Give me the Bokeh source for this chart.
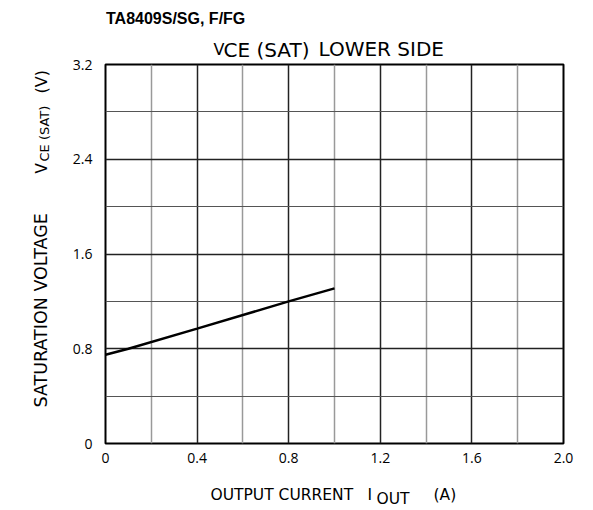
from bokeh.plotting import figure
from bokeh.models import Range1d, FixedTicker
from bokeh.layouts import column, row
from bokeh.core.properties import value
from bokeh.embed import file_html
from bokeh.resources import INLINE
import math

# ---- data ----
iout = [0.0, 0.1, 0.4, 0.8, 1.0]
vce_sat = [0.75, 0.80, 0.97, 1.20, 1.31]

x_ticks = [0, 0.4, 0.8, 1.2, 1.6, 2.0]
x_minor = [0.2, 0.6, 1.0, 1.4, 1.8]
y_ticks = [0, 0.8, 1.6, 2.4, 3.2]
y_minor = [0.4, 1.2, 2.0, 2.8]
x_labels = {0: "0", 0.4: "0.4", 0.8: "0.8", 1.2: "1.2", 1.6: "1.6", 2.0: "2.0"}
y_labels = {0: "0", 0.8: "0.8", 1.6: "1.6", 2.4: "2.4", 3.2: "3.2"}

title_text = "TA8409S/SG, F/FG"
subtitle_parts = ["V", "CE (SAT)", "LOWER SIDE"]
xlabel_parts = ["OUTPUT CURRENT", "I", "OUT", "(A)"]
ylabel_parts = ["SATURATION VOLTAGE", "V", "CE (SAT)", "(V)"]

TICK_FONT = "Open Sans"
LAB_FONT = "DejaVu Sans"

# ---- layout geometry (canvas pixels) ----
TOTAL_H = 508
YLAB_W = 60
TICK_W = 40
COL_X = YLAB_W + TICK_W          # 100
MAIN_W = 577 - COL_X             # 477
F_LEFT, F_RIGHT = 105, 563       # plot frame
F_TOP, F_BOT = 64, 443
HEAD_H = 62
MAIN_H = F_BOT + 33 - HEAD_H     # 414
XLAB_H = TOTAL_H - HEAD_H - MAIN_H
SHIFT = 0.37                     # empirical baseline correction (em)


def blank(f):
    f.outline_line_color = None
    f.background_fill_color = "white"
    f.border_fill_color = "white"
    return f


def put(f, x, y, text, size, font=LAB_FONT, bold=False, angle=0.0):
    f.text(x=[x], y=[y], text=[text], text_font=value(font),
           text_font_size=value("%gpx" % size), text_font_style="bold" if bold else "normal",
           angle=angle, text_align="left", text_baseline="alphabetic",
           text_color="black")


# ---- header (data x = canvas x, data y = HEAD_H - canvas y) ----
head = blank(figure(width=MAIN_W, height=HEAD_H, output_backend="svg", toolbar_location=None,
                    x_range=Range1d(F_LEFT, F_RIGHT), y_range=Range1d(0, HEAD_H),
                    x_axis_type=None, y_axis_type=None,
                    min_border_left=F_LEFT - COL_X, min_border_right=577 - F_RIGHT,
                    min_border_top=0, min_border_bottom=0))
def hput(x, base, text, size, **kw):
    put(head, x, HEAD_H - (base - SHIFT * size), text, size, **kw)

hput(105.5, 24, title_text, 16, font="Liberation Sans", bold=True)
hput(213, 55, subtitle_parts[0], 16)
hput(223, 57, subtitle_parts[1], 20)
hput(318, 56, subtitle_parts[2], 20)

# ---- y label panel (frame = plot frame rows) ----
ylab = blank(figure(width=YLAB_W, height=TOTAL_H, output_backend="svg", toolbar_location=None,
                    x_range=Range1d(0, YLAB_W), y_range=Range1d(0, F_BOT - F_TOP),
                    x_axis_type=None, y_axis_type=None,
                    min_border_left=0, min_border_right=0,
                    min_border_top=F_TOP, min_border_bottom=TOTAL_H - F_BOT))
ang = math.pi / 2
def yput(base_x, start_y, text, size):
    put(ylab, base_x - SHIFT * size, F_BOT - start_y, text, size, angle=ang)

yput(47, 407, ylabel_parts[0], 17.5)
yput(47, 173, ylabel_parts[1], 15)
yput(49, 161, ylabel_parts[2], 13)
yput(47, 93, ylabel_parts[3], 16)

# ---- y tick label panel ----
yt = blank(figure(width=TICK_W, height=TOTAL_H, output_backend="svg", toolbar_location=None,
                  x_range=Range1d(0, 1), y_range=Range1d(0, 3.2), x_axis_type=None,
                  min_border_left=TICK_W - 1, min_border_right=0,
                  min_border_top=F_TOP, min_border_bottom=TOTAL_H - F_BOT))
yt.ygrid.visible = False
yt.yaxis.ticker = FixedTicker(ticks=y_ticks, minor_ticks=y_minor)
yt.yaxis.major_label_overrides = y_labels
yt.yaxis.axis_line_color = None
yt.yaxis.major_tick_line_color = None
yt.yaxis.minor_tick_line_color = None
yt.yaxis.major_label_text_font = TICK_FONT
yt.yaxis.major_label_text_font_size = "14px"
yt.yaxis.major_label_text_color = "black"
yt.yaxis.major_label_standoff = 1

# ---- main chart ----
p = figure(width=MAIN_W, height=MAIN_H, output_backend="svg", toolbar_location=None,
           x_range=Range1d(0, 2.0), y_range=Range1d(0, 3.2),
           min_border_left=F_LEFT - COL_X, min_border_right=577 - F_RIGHT,
           min_border_top=F_TOP - HEAD_H, min_border_bottom=HEAD_H + MAIN_H - F_BOT)
p.background_fill_color = "white"
p.border_fill_color = "white"
p.outline_line_color = "black"
p.outline_line_width = 2
p.yaxis.visible = False

p.xaxis.ticker = FixedTicker(ticks=x_ticks, minor_ticks=x_minor)
p.xgrid.ticker = FixedTicker(ticks=x_ticks, minor_ticks=x_minor)
p.ygrid.ticker = FixedTicker(ticks=y_ticks, minor_ticks=y_minor)
p.xaxis.major_label_overrides = x_labels
p.xaxis.axis_line_color = None
p.xaxis.major_tick_line_color = None
p.xaxis.minor_tick_line_color = None
p.xaxis.major_label_text_font = TICK_FONT
p.xaxis.major_label_text_font_size = "14px"
p.xaxis.major_label_text_color = "black"
p.xaxis.major_label_standoff = 3

p.xgrid.grid_line_color = "#222222"
p.xgrid.grid_line_width = 1.5
p.xgrid.minor_grid_line_color = "#999999"
p.xgrid.minor_grid_line_width = 1.5
p.ygrid.grid_line_color = "#222222"
p.ygrid.grid_line_width = 1.5
p.ygrid.minor_grid_line_color = "#555555"
p.ygrid.minor_grid_line_width = 1.2

p.line(iout, vce_sat, line_color="black", line_width=2.5)

# ---- x label panel ----
xlab = blank(figure(width=MAIN_W, height=XLAB_H, output_backend="svg", toolbar_location=None,
                    x_range=Range1d(F_LEFT, F_RIGHT), y_range=Range1d(0, XLAB_H),
                    x_axis_type=None, y_axis_type=None,
                    min_border_left=F_LEFT - COL_X, min_border_right=577 - F_RIGHT,
                    min_border_top=0, min_border_bottom=0))
OX = HEAD_H + MAIN_H
def xput(x, base, text, size):
    put(xlab, x, XLAB_H - (base - OX - SHIFT * size), text, size)

xput(210, 500, xlabel_parts[0], 15.5)
xput(367, 500, xlabel_parts[1], 15.5)
xput(376, 504, xlabel_parts[2], 15.5)
xput(433, 500, xlabel_parts[3], 15.5)

layout = row(ylab, yt, column(head, p, xlab, spacing=0), spacing=0)

open("out.html", "w").write(file_html(layout, INLINE))
